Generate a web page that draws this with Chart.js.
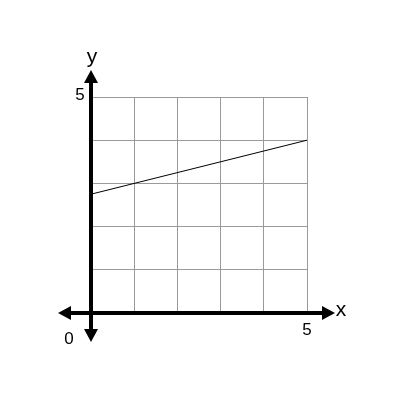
<!DOCTYPE html>
<html>
<head>
    <meta charset="utf-8">
    <script src="https://cdn.jsdelivr.net/npm/chart.js@4"></script>
    <style>
        body { margin: 0; background: #fff; }
    </style>
</head>
<body>
    <div style="width: 400px; height: 400px;">
        <canvas id="wykres" width="400" height="400"></canvas>
    </div>
    <script>
        const lineX = [0, 5];
        const lineY = [2.75, 4];
        const axisMin = 0;
        const axisMax = 5;
        const xTick = "5";
        const yTick = "5";
        const originLabel = "0";
        const xName = "x";
        const yName = "y";

        function strzalka(ctx, x, y, dx, dy) {
            // grot strzalki, dx/dy = kierunek
            const len = 13, half = 7;
            ctx.beginPath();
            ctx.moveTo(x, y);
            ctx.lineTo(x - dx * len - dy * half, y - dy * len - dx * half);
            ctx.lineTo(x - dx * len + dy * half, y - dy * len + dx * half);
            ctx.closePath();
            ctx.fill();
        }

        const osie = {
            id: "osie",
            afterDatasetsDraw(chart) {
                const ctx = chart.ctx;
                const sx = chart.scales.x, sy = chart.scales.y;
                const x0 = sx.getPixelForValue(0), x5 = sx.getPixelForValue(5);
                const y0 = sy.getPixelForValue(0), y5 = sy.getPixelForValue(5);
                ctx.save();
                ctx.strokeStyle = "#000";
                ctx.fillStyle = "#000";
                ctx.lineWidth = 4;
                // os x
                ctx.beginPath();
                ctx.moveTo(x0 - 28, y0);
                ctx.lineTo(x5 + 20, y0);
                ctx.stroke();
                strzalka(ctx, x0 - 33, y0, -1, 0);
                strzalka(ctx, x5 + 28, y0, 1, 0);
                // os y
                ctx.beginPath();
                ctx.moveTo(x0, y0 + 22);
                ctx.lineTo(x0, y5 - 20);
                ctx.stroke();
                strzalka(ctx, x0, y0 + 29, 0, 1);
                strzalka(ctx, x0, y5 - 27, 0, -1);
                // napisy
                ctx.font = "17px 'Liberation Sans', Arial, sans-serif";
                ctx.textAlign = "center";
                ctx.textBaseline = "middle";
                ctx.fillText(xTick, x5, y0 + 17);
                ctx.fillText(yTick, x0 - 11, y5 - 2);
                ctx.fillText(originLabel, x0 - 22, y0 + 26);
                ctx.font = "21px 'Liberation Sans', Arial, sans-serif";
                ctx.fillText(xName, x5 + 34, y0 - 3);
                ctx.fillText(yName, x0 + 1, y5 - 40);
                ctx.restore();
            }
        };

        const dane = {
            datasets: [
                {
                    data: lineX.map((x, i) => ({ x: x, y: lineY[i] })),
                    showLine: true,
                    borderColor: "#000",
                    borderWidth: 1,
                    pointRadius: 0,
                }
            ]
        };

        const siatka = {
            min: axisMin,
            max: axisMax,
            ticks: { display: false, stepSize: 1 },
            grid: { color: "#9a9a9a", lineWidth: 1, drawTicks: false },
            border: { display: false },
        };

        const ctx = document.getElementById("wykres").getContext("2d");
        const wykres = new Chart(ctx, {
            type: "scatter",
            data: dane,
            plugins: [osie],
            options: {
                responsive: false,
                animation: false,
                layout: { padding: { left: 91, right: 93, top: 97, bottom: 87 } },
                plugins: { legend: { display: false }, tooltip: { enabled: false } },
                scales: { x: siatka, y: siatka },
            }
        });
    </script>
</body>
</html>
